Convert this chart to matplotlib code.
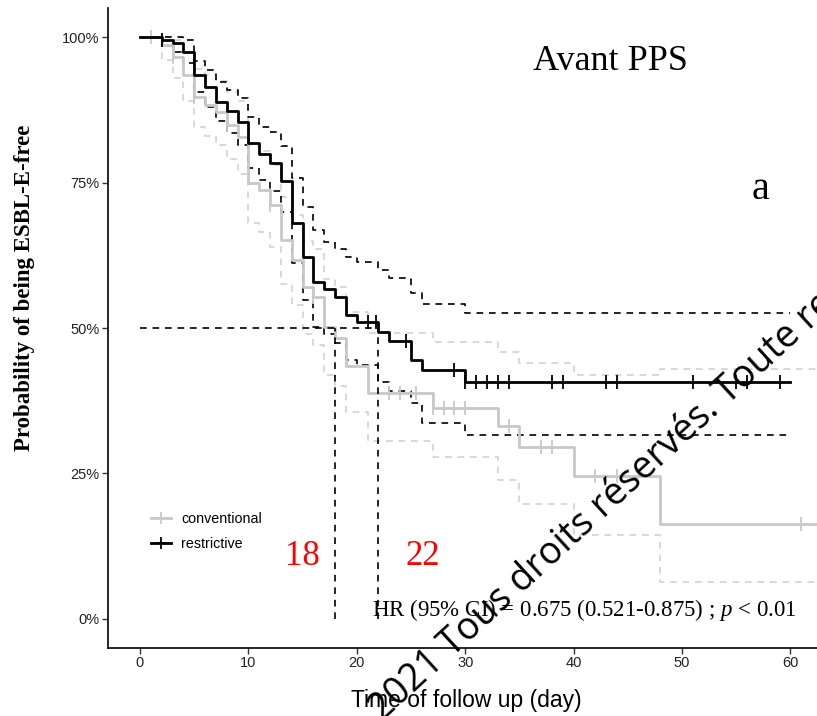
import numpy as np
import matplotlib
matplotlib.use("Agg")
import matplotlib.pyplot as plt
from matplotlib.lines import Line2D

# Kaplan-Meier estimates
r_time = [0, 2, 3, 4, 5, 6, 7, 8, 9, 10, 11, 12, 13, 14, 15, 16, 17, 18, 19, 20, 22, 23, 25, 26, 30, 60]
r_surv = [1.0, 0.995, 0.99, 0.975, 0.935, 0.914, 0.888, 0.873, 0.854, 0.818, 0.799, 0.784, 0.753,
          0.680, 0.622, 0.579, 0.567, 0.553, 0.522, 0.510, 0.493, 0.478, 0.445, 0.428, 0.408, 0.408]
r_upper = [1.0, 1.0, 1.0, 0.995, 0.959, 0.943, 0.923, 0.909, 0.895, 0.863, 0.846, 0.837, 0.812,
           0.758, 0.708, 0.668, 0.648, 0.635, 0.622, 0.614, 0.600, 0.586, 0.560, 0.542, 0.526, 0.526]
r_lower = [1.0, 0.985, 0.975, 0.955, 0.905, 0.880, 0.855, 0.835, 0.815, 0.775, 0.755, 0.735, 0.700,
           0.611, 0.548, 0.502, 0.490, 0.475, 0.445, 0.436, 0.408, 0.391, 0.371, 0.336, 0.316, 0.316]
r_censor = [2, 21, 21.8, 24.5, 29, 30, 31, 32, 33, 34, 38, 39, 43, 44, 51, 55, 56, 59]

c_time = [0, 2, 3, 4, 5, 6, 7, 8, 9, 10, 11, 12, 13, 14, 15, 16, 17, 18, 19, 21, 27, 33, 35, 40, 48, 63]
c_surv = [1.0, 0.986, 0.966, 0.935, 0.897, 0.883, 0.872, 0.849, 0.829, 0.749, 0.737, 0.711, 0.651,
          0.617, 0.571, 0.554, 0.502, 0.483, 0.435, 0.388, 0.363, 0.332, 0.296, 0.246, 0.163, 0.163]
c_upper = [1.0, 1.0, 0.995, 0.975, 0.945, 0.935, 0.925, 0.905, 0.890, 0.815, 0.805, 0.780, 0.725,
           0.695, 0.650, 0.635, 0.585, 0.571, 0.528, 0.491, 0.476, 0.459, 0.439, 0.419, 0.430, 0.430]
c_lower = [1.0, 0.960, 0.930, 0.890, 0.845, 0.830, 0.815, 0.790, 0.765, 0.680, 0.665, 0.640, 0.575,
           0.540, 0.490, 0.470, 0.420, 0.400, 0.356, 0.305, 0.279, 0.239, 0.198, 0.144, 0.064, 0.064]
c_censor = [1, 3, 5, 8, 12, 16, 23, 24, 25.5, 27, 28, 29, 30, 34, 37, 38, 42, 44, 61]

medians = [18, 22]
x_ticks = [0, 10, 20, 30, 40, 50, 60]
y_ticks = [0, 0.25, 0.5, 0.75, 1.0]
y_ticklabels = ["0%", "25%", "50%", "75%", "100%"]

SANS = ["Liberation Sans", "DejaVu Sans"]
SERIF = ["Liberation Serif", "DejaVu Serif"]
GREY = "#c8c8c8"
GREY_CI = "#d2d2d2"

plt.rcParams["mathtext.fontset"] = "custom"
plt.rcParams["mathtext.rm"] = "Liberation Serif"
plt.rcParams["mathtext.it"] = "Liberation Serif:italic"


def step_at(times, surv, t):
    idx = np.searchsorted(times, t, side="right") - 1
    return np.asarray(surv)[idx]


W, H = 817, 716
fig = plt.figure(figsize=(W / 100, H / 100), dpi=100)
ax = fig.add_axes([108 / W, 1 - 648 / H, 1 - 108 / W, (648 - 8) / H])

dash = (0, (4, 3.5))
for times, up, lo, col in [(c_time, c_upper, c_lower, GREY_CI), (r_time, r_upper, r_lower, "black")]:
    ax.step(times, up, where="post", color=col, lw=1.2, ls=dash)
    ax.step(times, lo, where="post", color=col, lw=1.2, ls=dash)

ax.step(c_time, c_surv, where="post", color=GREY, lw=2.0)
ax.plot(c_censor, step_at(c_time, c_surv, c_censor), ls="none", marker="|",
        ms=10, mew=1.3, color=GREY)
ax.step(r_time, r_surv, where="post", color="black", lw=2.0)
ax.plot(r_censor, step_at(r_time, r_surv, r_censor), ls="none", marker="|",
        ms=10, mew=1.3, color="black")

# median lines
ax.plot([0, max(medians)], [0.5, 0.5], color="black", lw=1.2, ls=dash)
for m in medians:
    ax.plot([m, m], [0, 0.5], color="black", lw=1.2, ls=dash)

ax.text(15, 0.108, str(medians[0]), color="red", fontsize=25, family=SERIF, ha="center", va="center")
ax.text(26.1, 0.108, str(medians[1]), color="red", fontsize=25, family=SERIF, ha="center", va="center")
ax.text(60.6, 0.015, r"HR (95% CI) = 0.675 (0.521-0.875) ; $\mathit{p}$ < 0.01", fontsize=16.5,
        family=SERIF, ha="right", va="center")
ax.text(0.709, 0.916, "Avant PPS", transform=ax.transAxes, fontsize=26, family=SERIF,
        ha="center", va="center")
ax.text(0.92, 0.717, "a", transform=ax.transAxes, fontsize=29, family=SERIF,
        ha="center", va="center")

handles = [
    Line2D([], [], color=GREY, lw=2.0, marker="+", ms=9, mew=1.3),
    Line2D([], [], color="black", lw=2.0, marker="+", ms=9, mew=1.3),
]
leg = ax.legend(handles, ["conventional", "restrictive"], loc="center left",
                bbox_to_anchor=(0.043, 0.182), frameon=False, handlelength=1.4,
                labelspacing=0.75, handletextpad=0.7, prop={"family": SANS, "size": 10.3})

ax.set_xlim(-2.95, 62.45)
ax.set_ylim(-0.05, 1.05)
ax.set_xticks(x_ticks)
ax.set_yticks(y_ticks)
ax.set_yticklabels(y_ticklabels)
for lab in ax.get_xticklabels() + ax.get_yticklabels():
    lab.set_family(SANS)
    lab.set_fontsize(10.5)
    lab.set_color("#222222")
ax.tick_params(length=4, width=1, color="#333333", pad=2)
for s in ["top", "right"]:
    ax.spines[s].set_visible(False)
for s in ["left", "bottom"]:
    ax.spines[s].set_linewidth(1.2)

fig.text(466 / W, 1 - 700 / H, "Time of follow up (day)", fontsize=16.5, family=SANS,
         ha="center", va="center")
fig.text(25 / W, 1 - 288 / H, "Probability of being ESBL-E-free", fontsize=16.5, family=SERIF,
         weight="bold", rotation=90, ha="center", va="center")

# watermark across the plot
fig.text(382 / W, 1 - 722 / H, "2021 Tous droits réservés. Toute re", fontsize=27,
         family=["Open Sans", "DejaVu Sans"], rotation=42.5, rotation_mode="anchor",
         ha="left", va="baseline", color="black")

fig.savefig("out.png", dpi=100)
